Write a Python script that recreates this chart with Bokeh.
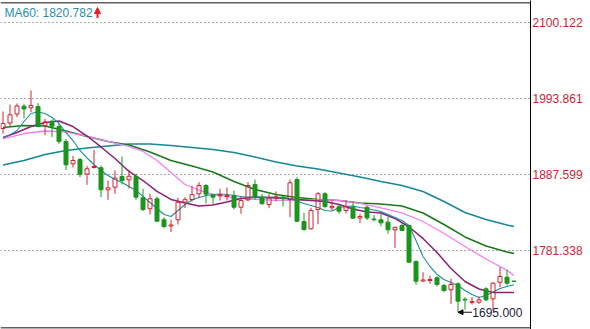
from bokeh.plotting import figure
from bokeh.models import (Range1d, FixedTicker, PrintfTickFormatter, Span, Label,
                          Arrow, NormalHead, ColumnDataSource)
from bokeh.embed import file_html
from bokeh.resources import INLINE

# ---------------- data ----------------
opens = [1951.9, 1959.6, 1972.2, 1983.1, 1980.9, 1982.7, 1956.1, 1962.0, 1954.7, 1933.7,
         1902.6, 1908.6, 1888.3, 1897.4, 1897.0, 1866.2, 1869.9, 1884.8, 1880.2, 1884.8,
         1855.0, 1839.7, 1853.6, 1824.3, 1815.6, 1824.3, 1848.9, 1852.6, 1860.6, 1872.2,
         1859.2, 1857.8, 1856.9, 1858.3, 1841.9, 1852.2, 1873.6, 1855.9, 1845.7, 1855.0,
         1855.9, 1852.6, 1880.6, 1821.9, 1811.7, 1838.7, 1860.6, 1841.1, 1842.5, 1837.3,
         1841.9, 1826.8, 1841.9, 1825.4, 1824.3, 1821.0, 1810.3, 1816.3, 1816.3, 1766.0,
         1738.7, 1739.4, 1743.2, 1732.4, 1726.4, 1734.8, 1713.1, 1708.7, 1709.1, 1727.8,
         1713.8, 1737.0, 1744.0, 1738.6]
highs = [1975.7, 1985.5, 1986.9, 1986.5, 2005.1, 1987.3, 1965.5, 1964.5, 1958.5, 1937.2,
         1913.5, 1910.9, 1899.5, 1921.9, 1900.2, 1879.2, 1893.2, 1912.8, 1894.6, 1888.6,
         1867.6, 1860.6, 1856.8, 1827.9, 1824.3, 1855.0, 1855.9, 1871.8, 1876.9, 1874.1,
         1860.6, 1867.6, 1869.4, 1865.2, 1856.9, 1876.9, 1880.6, 1860.6, 1860.3, 1863.9,
         1858.3, 1880.6, 1883.8, 1834.1, 1841.1, 1862.9, 1862.9, 1851.2, 1846.7, 1851.7,
         1849.2, 1832.7, 1844.3, 1831.0, 1833.5, 1827.9, 1814.6, 1818.7, 1817.3, 1767.4,
         1751.0, 1746.4, 1745.0, 1734.8, 1741.8, 1737.0, 1716.1, 1716.1, 1717.0, 1730.0,
         1737.0, 1758.0, 1754.4, 1738.6]
lows = [1944.9, 1955.4, 1967.7, 1965.9, 1975.0, 1953.8, 1942.8, 1940.0, 1930.5, 1893.9,
        1897.4, 1883.8, 1873.2, 1896.0, 1855.9, 1852.2, 1860.6, 1873.6, 1868.0, 1852.2,
        1836.3, 1831.7, 1821.0, 1812.5, 1807.0, 1817.7, 1840.8, 1849.9, 1855.5, 1847.1,
        1846.1, 1851.2, 1851.2, 1838.7, 1832.7, 1850.3, 1852.2, 1845.3, 1840.5, 1850.1,
        1842.9, 1827.9, 1821.0, 1808.9, 1810.7, 1818.1, 1840.5, 1837.3, 1832.7, 1833.1,
        1825.7, 1819.8, 1824.0, 1821.9, 1814.9, 1804.7, 1785.1, 1808.3, 1763.6, 1733.4,
        1737.0, 1734.8, 1731.0, 1723.1, 1706.8, 1695.0, 1698.5, 1705.9, 1706.8, 1710.5,
        1697.5, 1730.0, 1732.4, 1738.2]
closes = [1958.9, 1971.1, 1983.4, 1979.2, 1984.1, 1954.7, 1961.0, 1955.1, 1933.7, 1901.2,
          1907.2, 1887.9, 1895.6, 1898.8, 1866.2, 1869.0, 1882.5, 1879.2, 1885.2, 1855.9,
          1838.7, 1853.6, 1822.3, 1814.9, 1817.0, 1848.9, 1852.4, 1859.4, 1872.2, 1860.1,
          1855.9, 1859.2, 1858.3, 1841.9, 1851.2, 1872.2, 1855.7, 1846.7, 1854.8, 1856.2,
          1853.6, 1876.0, 1822.2, 1810.7, 1837.3, 1860.6, 1842.9, 1842.9, 1836.3, 1842.9,
          1826.5, 1828.9, 1826.8, 1824.3, 1820.1, 1810.3, 1813.9, 1809.3, 1765.0, 1738.4,
          1740.1, 1740.8, 1733.8, 1725.4, 1733.8, 1710.5, 1712.1, 1709.8, 1712.4, 1712.4,
          1735.6, 1745.0, 1735.6, 1738.2]

ma5_idx = list(range(74))
ma5_vals = [1939.3, 1942.8, 1949.1, 1961.7, 1972.9, 1975.0, 1972.9, 1967.3, 1958.9, 1946.3,
            1935.1, 1921.2, 1910.7, 1901.6, 1893.2, 1886.2, 1880.6, 1876.4, 1870.9, 1865.2,
            1856.9, 1848.5, 1840.1, 1831.7, 1828.9, 1837.3, 1845.7, 1852.0, 1855.5, 1858.3,
            1859.7, 1860.4, 1859.7, 1858.3, 1856.9, 1856.2, 1855.9, 1855.9, 1855.9, 1855.9,
            1855.5, 1854.1, 1850.6, 1847.1, 1844.3, 1841.5, 1837.3, 1836.6, 1841.5, 1842.9,
            1843.6, 1841.5, 1840.1, 1838.0, 1835.9, 1831.7, 1827.5, 1823.3, 1816.3, 1795.3,
            1773.0, 1759.0, 1747.8, 1740.8, 1736.6, 1732.4, 1725.4, 1719.9, 1715.7, 1718.5,
            1723.4, 1728.3, 1731.1, 1733.4]

ma10_idx = list(range(0, 73, 2)) + [73]
ma10_vals = [1939.3, 1946.3, 1954.7, 1960.3, 1962.4, 1954.7, 1941.4, 1926.1, 1910.0, 1891.8,
             1879.2, 1863.9, 1852.7, 1847.8, 1843.6, 1845.0, 1849.2, 1854.1, 1855.7, 1855.2,
             1854.3, 1852.7, 1851.3, 1849.9, 1845.7, 1839.4, 1835.2, 1833.8, 1826.1, 1814.2,
             1798.2, 1778.6, 1756.2, 1738.0, 1727.5, 1722.6, 1722.6, 1722.6]

ma20_idx = [0, 3, 6, 9, 12, 15, 18, 20, 22, 24, 26, 28, 30, 33, 36, 39, 42, 45, 48, 51,
            54, 57, 60, 63, 66, 69, 72, 73]
ma20_vals = [1937.3, 1944.9, 1948.4, 1947.0, 1941.4, 1933.8, 1926.8, 1919.8, 1907.2, 1890.4,
             1873.6, 1865.9, 1859.7, 1854.8, 1852.7, 1851.3, 1851.6, 1852.3, 1851.3, 1847.1,
             1840.8, 1833.8, 1821.9, 1805.1, 1787.0, 1769.5, 1753.5, 1746.4]

ma30_idx = list(range(0, 73, 3)) + [73]
ma30_vals = [1953.3, 1956.1, 1955.4, 1948.4, 1940.7, 1933.8, 1928.9, 1919.1, 1907.2, 1899.5,
             1891.1, 1877.8, 1866.7, 1859.7, 1855.5, 1852.7, 1851.3, 1847.8, 1846.4, 1843.6,
             1833.8, 1817.7, 1800.3, 1787.7, 1779.3, 1777.2]

ma60_idx = list(range(0, 73, 3)) + [73]
ma60_vals = [1900.9, 1907.2, 1915.6, 1921.2, 1924.7, 1927.5, 1930.3, 1930.3, 1928.2, 1925.4,
             1922.6, 1918.4, 1912.1, 1905.1, 1899.5, 1895.3, 1889.7, 1884.1, 1877.8, 1872.2,
             1863.9, 1849.9, 1834.5, 1824.7, 1817.0, 1814.9]

tick_vals = [1781.338, 1887.599, 1993.861, 2100.122]
ma60_label = "MA60: 1820.782"
low_label = "1695.000"
low_index = 65
low_value = 1695.0

# ---------------- layout ----------------
W, H = 590, 329
FRAME_W = 530
STEP = 7.0
x0 = -2.5 / STEP
y_top, y_bot = 2130.88, 1670.88


def dx(px):
    return x0 + px / STEP


def dy(px):
    return y_top - px * (y_top - y_bot) / H


UP = "#d42032"
DOWN = "#1c951f"

p = figure(width=W, height=H, x_range=Range1d(x0, x0 + FRAME_W / STEP),
           y_range=Range1d(y_bot, y_top), output_backend="svg", toolbar_location=None,
           x_axis_location=None, y_axis_location="right",
           min_border_left=0, min_border_right=W - FRAME_W, min_border_top=0,
           min_border_bottom=0, outline_line_color=None,
           background_fill_color="white", border_fill_color="white")

p.xgrid.visible = False
p.ygrid.ticker = FixedTicker(ticks=tick_vals)
p.ygrid.grid_line_color = "#555555"
p.ygrid.grid_line_dash = "1 3"
p.ygrid.grid_line_width = 1

ax = p.yaxis[0]
ax.ticker = FixedTicker(ticks=tick_vals)
ax.formatter = PrintfTickFormatter(format="%.3f")
ax.axis_line_color = "black"
ax.axis_line_width = 1
ax.major_tick_out = 0
ax.major_tick_in = 0
ax.minor_tick_out = 0
ax.minor_tick_in = 0
ax.major_label_standoff = 2
ax.major_label_text_color = UP
ax.major_label_text_font = "Liberation Sans"
ax.major_label_text_font_size = "12px"

# frame borders top / bottom
p.add_layout(Span(location=dy(2.2), dimension="width", line_color="#606060", line_width=1.5))
p.add_layout(Span(location=dy(327.2), dimension="width", line_color="#606060", line_width=1.5))

# moving averages
p.line(ma60_idx, ma60_vals, line_color="#17879a", line_width=1.6)
p.line(ma30_idx, ma30_vals, line_color="#1a7a1a", line_width=1.6)
p.line(ma20_idx, ma20_vals, line_color="#f57ff5", line_width=1.3)
p.line(ma10_idx, ma10_vals, line_color="#8a1f7c", line_width=1.5)
p.line(ma5_idx, ma5_vals, line_color="#1a8e9e", line_width=1.1)

# candles
n = len(closes)
up = [i for i in range(n) if closes[i] >= opens[i]]
dn = [i for i in range(n) if closes[i] < opens[i]]

up_src = ColumnDataSource(dict(
    x=up,
    top=[closes[i] for i in up],
    bottom=[opens[i] for i in up],
    high=[highs[i] for i in up],
    low=[lows[i] for i in up],
))
dn_src = ColumnDataSource(dict(
    x=dn,
    top=[opens[i] for i in dn],
    bottom=[closes[i] for i in dn],
    high=[highs[i] for i in dn],
    low=[lows[i] for i in dn],
))

BW = 4.0 / STEP
# up: hollow, wick split above and below the body
p.segment(x0="x", y0="high", x1="x", y1="top", source=up_src, line_color=UP, line_width=1)
p.segment(x0="x", y0="bottom", x1="x", y1="low", source=up_src, line_color=UP, line_width=1)
p.vbar(x="x", top="top", bottom="bottom", width=BW, source=up_src,
       fill_alpha=0, line_color=UP, line_width=1)
# down: filled
p.segment(x0="x", y0="high", x1="x", y1="low", source=dn_src, line_color=DOWN, line_width=1)
p.vbar(x="x", top="top", bottom="bottom", width=BW, source=dn_src,
       fill_color=DOWN, line_color=DOWN, line_width=1)

# MA60 label with red up arrow
p.add_layout(Label(x=dx(4), y=dy(12), text=ma60_label, text_font="Liberation Sans",
                   text_font_size="12px", text_color="#2a8db0", text_baseline="middle"))
p.add_layout(Arrow(end=NormalHead(size=6, fill_color="#e8202a", line_color="#e8202a"),
                   x_start=dx(97), y_start=dy(17.5), x_end=dx(97), y_end=dy(7),
                   line_color="#e8202a", line_width=2))

# low annotation
p.add_layout(Arrow(end=NormalHead(size=5, fill_color="#101010", line_color="#101010"),
                   x_start=low_index + 2.0, y_start=low_value, x_end=low_index, y_end=low_value,
                   line_color="#101010", line_width=1))
p.add_layout(Label(x=low_index + 2.05, y=low_value, text=low_label, text_font="Liberation Sans",
                   text_font_size="12px", text_color="#1a1a3a", text_baseline="middle"))

open("out.html", "w").write(file_html(p, INLINE))
